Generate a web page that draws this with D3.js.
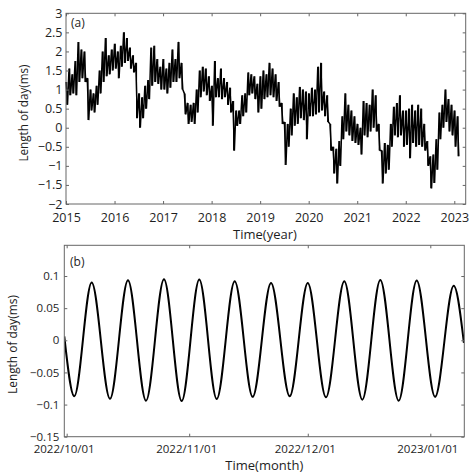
<!DOCTYPE html>
<html>
<head>
<meta charset="utf-8">
<script src="https://cdn.jsdelivr.net/npm/d3@7"></script>
<style>
  body { margin: 0; background: #fff; }
  svg { display: block; font-family: "Open Sans", "Noto Sans", sans-serif; }
  .label { fill: #1e1e1e; }
</style>
</head>
<body>
<svg id="chart" width="474" height="474"></svg>
<script>
const lodStart = 2015;
const lodStep = 1 / 16;
const lodUpper = [
  1.2, 1.55, 1.4, 1.75, 2.25, 2.05, 2.0, 1.3, 1.0, 0.9, 1.1, 1.5, 2.0, 2.35, 1.9, 2.05,      // 2015
  2.2, 2.0, 2.15, 2.5, 2.35, 2.1, 1.9, 1.7, 0.9, 0.8, 1.1, 1.25, 2.1, 2.15, 1.8, 1.6,        // 2016
  1.8, 1.55, 1.7, 2.05, 1.8, 2.25, 1.7, 0.9, 0.65, 0.6, 0.65, 1.0, 1.5, 1.6, 1.55, 1.35,     // 2017
  1.1, 1.75, 1.3, 1.55, 1.3, 1.2, 1.05, 0.7, 0.45, 0.45, 0.85, 0.9, 1.45, 1.4, 1.35, 1.15,   // 2018
  1.35, 1.5, 1.4, 1.7, 1.55, 1.4, 1.2, 0.65, 0.15, 0.1, 0.5, 0.9, 0.8, 1.07, 1.0, 0.95,      // 2019
  0.9, 1.05, 1.0, 1.6, 1.7, 0.95, 0.85, 0.1, -0.5, -0.55, -0.35, 0.3, 0.9, 0.6, 0.45, 0.3,   // 2020
  0.1, 0.0, 0.7, 0.65, 0.6, 1.0, 0.85, 0.1, -0.6, -0.4, -0.45, 0.1, 0.55, 0.65, 0.85, 0.45,  // 2021
  0.45, 0.5, 0.6, 0.45, 0.6, 0.5, 0.1, -0.35, -0.75, -0.7, -0.3, 0.4, 0.6, 1.0, 0.75, 0.6,   // 2022
  0.45, 0.3                                                                                  // 2023
];
const lodLower = [
  0.6, 0.85, 0.9, 0.85, 1.2, 1.3, 1.2, 0.2, 0.45, 0.4, 0.6, 0.9, 1.2, 1.35, 1.4, 1.5,
  1.55, 1.3, 1.6, 1.7, 1.75, 1.55, 1.45, 0.25, 0.0, 0.25, 0.5, 0.75, 1.1, 1.2, 1.15, 1.0,
  1.0, 0.9, 1.05, 1.2, 1.2, 1.3, 1.0, 0.35, 0.1, 0.15, 0.1, 0.4, 0.8, 0.95, 0.85, 0.7,
  0.05, 0.8, 0.8, 0.75, 0.8, 0.6, 0.4, -0.6, 0.05, 0.1, 0.3, 0.4, 0.85, 0.9, 0.75, 0.4,
  0.5, 0.75, 0.8, 0.85, 0.8, 0.7, 0.55, 0.1, -0.98, -0.5, -0.2, 0.05, 0.1, 0.25, 0.2, -0.3,
  0.3, 0.3, 0.35, 0.4, 0.45, 0.3, 0.15, -0.6, -1.2, -1.46, -1.0, -0.3, -0.1, -0.2, -0.35, -0.4,
  -0.45, -0.7, -0.2, -0.25, -0.1, 0.0, -0.1, -0.6, -1.46, -1.2, -1.1, -0.5, -0.2, -0.25, -0.2, -0.5,
  -0.45, -0.8, -0.4, -0.5, -0.45, -0.5, -0.6, -1.0, -1.59, -1.45, -1.1, -0.3, 0.0, 0.15, -0.1, -0.2,
  -0.5, -0.75
];
const yearTicks = [2015, 2016, 2017, 2018, 2019, 2020, 2021, 2022, 2023];
const lodTicks = [-2, -1.5, -1, -0.5, 0, 0.5, 1, 1.5, 2, 2.5, 3];

// (b) turning points of the fitted tidal term, in days after 2022/10/01
const tideDay = [-0.6, 1.92, 6.33, 10.96, 15.51, 20.07, 24.62, 29.1, 33.55, 37.96, 42.51, 47.06,
  51.7, 56.43, 61.0, 65.6, 70.24, 74.8, 79.35, 84.0, 88.56, 93.2, 97.93, 100.5];
const tideValue = [0.006, -0.087, 0.090, -0.091, 0.0935, -0.094, 0.095, -0.0945, 0.0945, -0.0914, 0.092, -0.088,
  0.0893, -0.087, 0.0893, -0.0888, 0.092, -0.0924, 0.094, -0.094, 0.093, -0.088, 0.085, -0.004];
const monthTicks = ["2022/10/01", "2022/11/01", "2022/12/01", "2023/01/01"];
const tideTicks = [-0.15, -0.1, -0.05, 0, 0.05, 0.1];

const svg = d3.select("#chart");
const axisColor = "#666";
const numFormat = d3.format("~g");

function drawFrame(box, x, y, xTicks, xFormat, yTicks, opts) {
  let g = svg.append("g");

  let bottom = g.append("g")
    .attr("transform", `translate(0,${box.bottom})`)
    .call(d3.axisBottom(x).tickValues(xTicks).tickFormat(xFormat).tickSize(-3).tickPadding(opts.xPad));
  bottom.selectAll(".tick text").attr("dx", opts.xShift || 0);

  g.append("g")
    .attr("transform", `translate(0,${box.top})`)
    .call(d3.axisTop(x).tickValues(xTicks).tickFormat("").tickSize(-3));

  g.append("g")
    .attr("transform", `translate(${box.left},0)`)
    .call(d3.axisLeft(y).tickValues(yTicks).tickFormat(numFormat).tickSize(-3).tickPadding(opts.yPad));

  g.append("g")
    .attr("transform", `translate(${box.right},0)`)
    .call(d3.axisRight(y).tickValues(yTicks).tickFormat("").tickSize(-3));

  g.selectAll(".domain").remove();
  g.selectAll("g").attr("font-family", null).attr("font-size", opts.fontSize).attr("color", axisColor);
  g.selectAll(".tick text").attr("fill", "#1e1e1e");

  g.append("rect")
    .attr("x", box.left).attr("y", box.top)
    .attr("width", box.right - box.left).attr("height", box.bottom - box.top)
    .attr("fill", "none").attr("stroke", axisColor).attr("stroke-width", 1);
}

function addText(txt, px, py, size, anchor, rotate, fitWidth) {
  let t = svg.append("text").attr("class", "label")
    .attr("font-size", size)
    .attr("text-anchor", anchor)
    .text(txt);
  if (fitWidth) t.attr("textLength", fitWidth).attr("lengthAdjust", "spacingAndGlyphs");
  if (rotate) t.attr("transform", `translate(${px},${py}) rotate(-90)`);
  else t.attr("x", px).attr("y", py);
}

function drawLodPanel() {
  let box = { left: 66, right: 465.7, top: 13.3, bottom: 204 };
  let x = d3.scaleLinear().domain([2015, 2023.235]).range([box.left, box.right]);
  let y = d3.scaleLinear().domain([-2, 3]).range([box.bottom, box.top]);

  // zig-zag between the band's top and bottom readings
  let points = [];
  lodUpper.forEach((u, i) => {
    let t = lodStart + i * lodStep;
    points.push([t, u]);
    points.push([t + lodStep / 2, lodLower[i]]);
  });

  let line = d3.line().x(d => x(d[0])).y(d => y(d[1]));
  svg.append("path")
    .datum(points)
    .attr("d", line)
    .attr("fill", "none")
    .attr("stroke", "#000")
    .attr("stroke-width", 1.5)
    .attr("stroke-linejoin", "bevel");

  // high-low range of each reading, to fill the band like the daily trace does
  svg.append("g").selectAll("line")
    .data(lodUpper)
    .join("line")
    .attr("x1", (u, i) => x(lodStart + (i + 0.25) * lodStep))
    .attr("x2", (u, i) => x(lodStart + (i + 0.25) * lodStep))
    .attr("y1", u => y(u))
    .attr("y2", (u, i) => y(lodLower[i]))
    .attr("stroke", "#000")
    .attr("stroke-width", 1.1);

  drawFrame(box, x, y, yearTicks, d3.format("d"), lodTicks, { xPad: 9, yPad: 3.5, fontSize: 12.5 });

  addText("(a)", 71, 26.5, 12, "start");
  addText("Length of day(ms)", 27.5, 113, 12.5, "middle", true, 97);
  addText("Time(year)", 265, 239.3, 13, "middle");
}

function drawTidePanel() {
  let box = { left: 64.3, right: 464.3, top: 245.3, bottom: 436.7 };
  let origin = Date.UTC(2022, 9, 1);
  let toDate = d => new Date(origin + d * 864e5);
  let parse = d3.utcParse("%Y/%m/%d");

  let x = d3.scaleUtc().domain([toDate(-0.6), toDate(100.6)]).range([box.left, box.right]);
  let y = d3.scaleLinear().domain([-0.15, 0.1478]).range([box.bottom, box.top]);

  let points = tideDay.map((d, i) => [toDate(d), tideValue[i]]);
  let line = d3.line().curve(d3.curveMonotoneX).x(d => x(d[0])).y(d => y(d[1]));

  svg.append("clipPath").attr("id", "tideClip")
    .append("rect")
    .attr("x", box.left).attr("y", box.top)
    .attr("width", box.right - box.left).attr("height", box.bottom - box.top);

  svg.append("path")
    .datum(points)
    .attr("d", line)
    .attr("clip-path", "url(#tideClip)")
    .attr("fill", "none")
    .attr("stroke", "#000")
    .attr("stroke-width", 2);

  drawFrame(box, x, y, monthTicks.map(parse), d3.utcFormat("%Y/%m/%d"), tideTicks,
    { xPad: 8, yPad: 5, fontSize: 11.5, xShift: -3 });

  addText("(b)", 70, 265.5, 12, "start");
  addText("Length of day(ms)", 16.5, 344.5, 12.5, "middle", true, 99);
  addText("Time(month)", 264.3, 470, 13, "middle");
}

drawLodPanel();
drawTidePanel();
</script>
</body>
</html>
